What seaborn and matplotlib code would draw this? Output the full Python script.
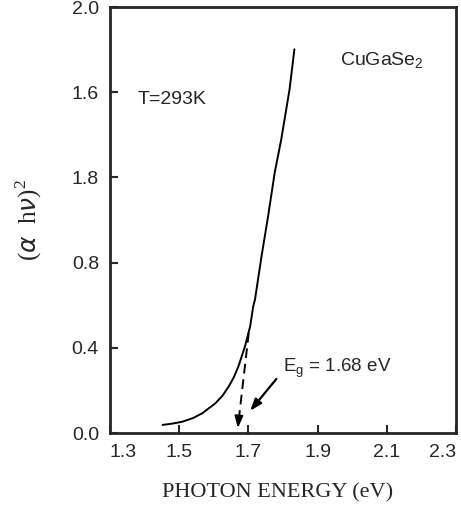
import numpy as np
import pandas as pd
import matplotlib
matplotlib.use("Agg")
import matplotlib.pyplot as plt
import seaborn as sns

# absorption edge curve
photon_energy = [1.452, 1.480, 1.509, 1.540, 1.567, 1.605, 1.625, 1.643, 1.658, 1.671,
                 1.690, 1.705, 1.714, 1.719, 1.738, 1.757, 1.776, 1.795, 1.819, 1.833]
alpha_hv_sq = [0.038, 0.044, 0.053, 0.070, 0.093, 0.140, 0.175, 0.218, 0.262, 0.312,
               0.406, 0.500, 0.595, 0.626, 0.830, 1.018, 1.222, 1.379, 1.614, 1.802]

# extrapolation to the gap
fit_x = [1.701, 1.669]
fit_y = [0.47, 0.010]

x_ticks = [1.3, 1.5, 1.7, 1.9, 2.1, 2.3]
x_labels = ["1.3", "1.5", "1.7", "1.9", "2.1", "2.3"]
y_ticks = [0.0, 0.4, 0.8, 1.2, 1.6, 2.0]
y_labels = ["0.0", "0.4", "0.8", "1.8", "1.6", "2.0"]  # as printed in the original

sns.set_style("ticks")
plt.rcParams["font.family"] = ["Liberation Sans", "DejaVu Sans"]

df = pd.DataFrame({"E": photon_energy, "A": alpha_hv_sq})

fig = plt.figure(figsize=(4.61, 5.09), dpi=100)
ax = fig.add_axes([0.2386, 0.1493, 0.7505, 0.8367])

sns.lineplot(data=df, x="E", y="A", ax=ax, color="black", linewidth=1.4)

# dashed extrapolation with arrow head at the gap
ax.plot(fit_x[:1] + [fit_x[1] + 0.003], fit_y[:1] + [0.06], color="black",
        linestyle=(0, (5, 3)), linewidth=1.4)
ax.annotate("", xy=(fit_x[1], fit_y[1]), xytext=(fit_x[1] + 0.003, 0.07),
            arrowprops=dict(arrowstyle="-|>,head_length=0.7,head_width=0.25",
                            color="black", lw=1.4))

# label arrow
ax.annotate("", xy=(1.70, 0.094), xytext=(1.786, 0.264),
            arrowprops=dict(arrowstyle="-|>,head_length=0.7,head_width=0.25",
                            color="black", lw=1.6))
ax.text(1.80, 0.306, r"E$_\mathregular{g}$ = 1.68 eV", fontsize=13.5, va="center", ha="left")

ax.text(1.966, 1.746, r"CuGaSe$_\mathregular{2}$", fontsize=14, va="center", ha="left")
ax.text(1.38, 1.567, "T=293K", fontsize=14, va="center", ha="left")

ax.set_xlim(1.3, 2.3)
ax.set_ylim(0.0, 2.0)
ax.set_xticks(x_ticks)
ax.set_xticklabels(x_labels)
ax.set_yticks(y_ticks)
ax.set_yticklabels(y_labels)
ax.tick_params(direction="in", length=6, width=1.5, labelsize=14, pad=8)
xt = ax.get_xticklabels()
xt[0].set_ha("left")
xt[-1].set_ha("right")

for s in ax.spines.values():
    s.set_visible(True)
    s.set_linewidth(2)

ax.set_xlabel("PHOTON ENERGY (eV)", family="Liberation Serif", fontsize=16, labelpad=16)
ax.xaxis.label.set_x(0.483)
ax.set_ylabel(r"($\alpha$  h$\nu$)$^\mathregular{2}$", family="Liberation Serif", fontsize=18, labelpad=20)

fig.savefig("out.png", dpi=100)
